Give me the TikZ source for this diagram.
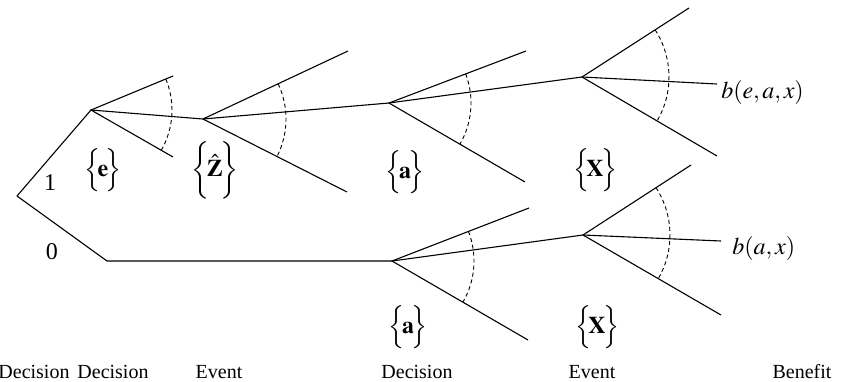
\documentclass[tikz,border=0pt]{standalone}
\usepackage{mathptmx}
\usepackage{fontspec}
\setmainfont{Liberation Serif}

\begin{document}
\begin{tikzpicture}[
  x=0.5pt,y=-0.5pt,
  br/.style={line width=0.55pt},
  sweep/.style={line width=0.45pt,dash pattern=on 2pt off 1.5pt},
  lab/.style={font=\large,inner sep=0pt},
  stage/.style={font=\normalsize,inner sep=0pt}
]
  \useasboundingbox (0,0) rectangle (846,381);

  % decision and event points
  \coordinate (root) at (17,196);
  \coordinate (dE)   at (91,110);
  \coordinate (kink) at (107,261);
  \coordinate (eZ)   at (203,119);
  \coordinate (dA1)  at (389,103);
  \coordinate (eX1)  at (582,77);
  \coordinate (dA0)  at (392,261);
  \coordinate (eX0)  at (583,235);

  % free ends of the fans
  \coordinate (dE-u)  at (173,76);  \coordinate (dE-l)  at (173,157);
  \coordinate (eZ-u)  at (348,51);  \coordinate (eZ-l)  at (347,192);
  \coordinate (dA1-u) at (526,51);  \coordinate (dA1-l) at (525,182);
  \coordinate (eX1-u) at (689,8);   \coordinate (eX1-l) at (717,156);
  \coordinate (dA0-u) at (529,208); \coordinate (dA0-l) at (528,340);
  \coordinate (eX0-u) at (691,165); \coordinate (eX0-l) at (721,315);
  \coordinate (eX1-m) at (717,84);
  \coordinate (eX0-m) at (721,241);

  % main paths
  \draw[br] (root) -- (dE) -- (eZ) -- (dA1) -- (eX1) -- (eX1-m);
  \draw[br] (root) -- (kink) -- (dA0) -- (eX0) -- (eX0-m);
  \foreach \n in {dE,eZ,dA1,eX1,dA0,eX0}
    \draw[br] (\n-u) -- (\n) -- (\n-l);

  % dashed sweeps over each fan
  \foreach \n/\a/\b/\r in {dE/-22.5/29.8/81,eZ/-25.1/26.9/83,dA1/-20.8/30.1/82,
                           eX1/-32.8/30.3/87,dA0/-21.2/30.1/82,eX0/-33/30.1/87}
    \draw[sweep] (\n) ++(\a:\r) arc[start angle=\a,end angle=\b,radius=\r];

  % labels on the tree
  \node[lab] (one)  at (50,183) {1};
  \node[lab] (zero) at (52,252) {0};
  \node[lab] (setE)  at (103,170) {$\Bigl\{\!\mathbf{e}\!\Bigr\}$};
  \node[lab] (setZ)  at (215,170) {$\biggl\{\!\hat{\mathbf{Z}}\!\biggr\}$};
  \node[lab] (setA1) at (405,172) {$\Bigl\{\!\mathbf{a}\!\Bigr\}$};
  \node[lab] (setX1) at (595,170) {$\Bigl\{\!\mathbf{X}\!\Bigr\}$};
  \node[lab] (setA0) at (408,327) {$\Bigl\{\!\mathbf{a}\!\Bigr\}$};
  \node[lab] (setX0) at (597,327) {$\Bigl\{\!\mathbf{X}\!\Bigr\}$};
  \node[lab,anchor=west] (ben1) at (721,92)  {$b(e,a,x)$};
  \node[lab,anchor=west] (ben0) at (732,248) {$b(a,x)$};

  % stage captions
  \node[stage] (c1) at (34,372)  {Decision};
  \node[stage] (c2) at (113,372) {Decision};
  \node[stage] (c3) at (219,372) {Event};
  \node[stage] (c4) at (417,372) {Decision};
  \node[stage] (c5) at (592,372) {Event};
  \node[stage] (c6) at (802,372) {Benefit};
\end{tikzpicture}
\end{document}
